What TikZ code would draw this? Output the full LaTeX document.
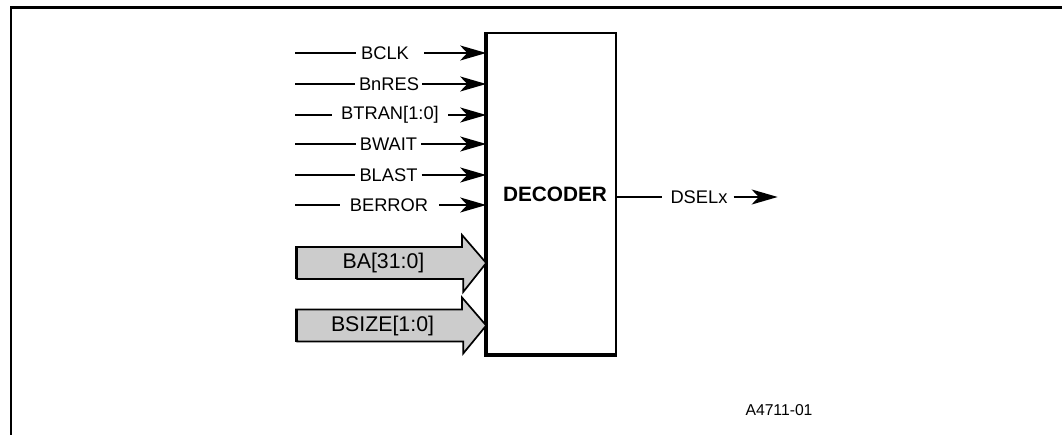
\documentclass[tikz,border=0pt]{standalone}
\usepackage{fontspec}
\setmainfont{Liberation Sans}
\usetikzlibrary{arrows.meta}
\begin{document}
\begin{tikzpicture}[x=1pt,y=-1pt,
  wire/.style={line width=2pt},
  sig/.style={line width=2pt,-{Stealth[length=26pt,width=15pt,inset=7pt]}},
  lab/.style={inner sep=0pt,font=\fontsize{18.3}{21}\selectfont},
  blab/.style={inner sep=0pt,font=\fontsize{21.3}{24}\selectfont},
  fat/.style={draw=black,line width=1.7pt,fill=black!20,line join=miter},
  shade/.style={line width=3pt,line cap=butt}]
\useasboundingbox (0,0) rectangle (1062,435);
% frame
\draw[line width=2.4pt] (11,436) -- (11,7.5) -- (1063,7.5);
% decoder box
\node (dec) [draw,line width=1.6pt,minimum width=129pt,minimum height=321pt,inner sep=0pt] at (551.5,193.5) {};
\draw[shade] ([xshift=-1pt]dec.north west) -- ([xshift=-1pt,yshift=-1pt]dec.south west) -- ([yshift=-1pt]dec.south east);
\node (dectxt) [font=\bfseries\fontsize{20.8}{24}\selectfont,inner sep=0pt] at (555,194) {DECODER};
% input signals
\coordinate (s1) at (295,53);
\node[lab] (l1) at (385,53) {BCLK};
\draw[wire] (s1) -- ([xshift=-5pt]l1.west);
\draw[sig] ([xshift=15pt]l1.east) -- (s1 -| dec.west);

\coordinate (s2) at (295,84);
\node[lab] (l2) at (389,84) {BnRES};
\draw[wire] (s2) -- ([xshift=-4pt]l2.west);
\draw[sig] ([xshift=3pt]l2.east) -- (s2 -| dec.west);

\coordinate (s3) at (295,115);
\node[lab] (l3) at (390,115) {BTRAN[1:0]};
\draw[wire] (s3) -- ([xshift=-9pt]l3.west);
\draw[sig] ([xshift=9pt]l3.east) -- (s3 -| dec.west);

\coordinate (s4) at (295,144);
\node[lab] (l4) at (388.5,144) {BWAIT};
\draw[wire] (s4) -- ([xshift=-4pt]l4.west);
\draw[sig] ([xshift=4pt]l4.east) -- (s4 -| dec.west);

\coordinate (s5) at (295,175);
\node[lab] (l5) at (388.5,175) {BLAST};
\draw[wire] (s5) -- ([xshift=-4pt]l5.west);
\draw[sig] ([xshift=4pt]l5.east) -- (s5 -| dec.west);

\coordinate (s6) at (295,205);
\node[lab] (l6) at (389,205) {BERROR};
\draw[wire] (s6) -- ([xshift=-10pt]l6.west);
\draw[sig] ([xshift=11pt]l6.east) -- (s6 -| dec.west);

% bus arrows
\coordinate (ba) at (296,263);
\draw[fat] (ba) ++(0,-16) -- ++(166,0) -- ++(0,-12) -- (ba -| dec.west) -- ++(-23,29) -- ++(0,-13) -- ++(-166,0) -- cycle;
\draw[shade] ([yshift=16pt]ba) -- ([yshift=-16pt]ba) ;
\node[blab] (bal) at (383.5,263) {BA[31:0]};

\coordinate (bs) at (296,325.5);
\draw[fat] (bs) ++(0,-16) -- ++(166,0) -- ++(0,-12) -- (bs -| dec.west) -- ++(-23,28) -- ++(0,-12) -- ++(-166,0) -- cycle;
\draw[shade] ([yshift=16pt]bs) -- ([yshift=-16pt]bs) ;
\node[blab] (bsl) at (382.5,325.5) {BSIZE[1:0]};

% output
\node[lab] (dsel) at (699,197) {DSELx};
\draw[wire] (dsel.west -| dec.east) -- ([xshift=-8pt]dsel.west);
\draw[sig] ([xshift=6pt]dsel.east) -- ++(44,0) coordinate (dout);

% figure id
\node[inner sep=0pt,font=\fontsize{15.7}{18}\selectfont] (fid) at (779,410) {A4711-01};
\end{tikzpicture}
\end{document}
